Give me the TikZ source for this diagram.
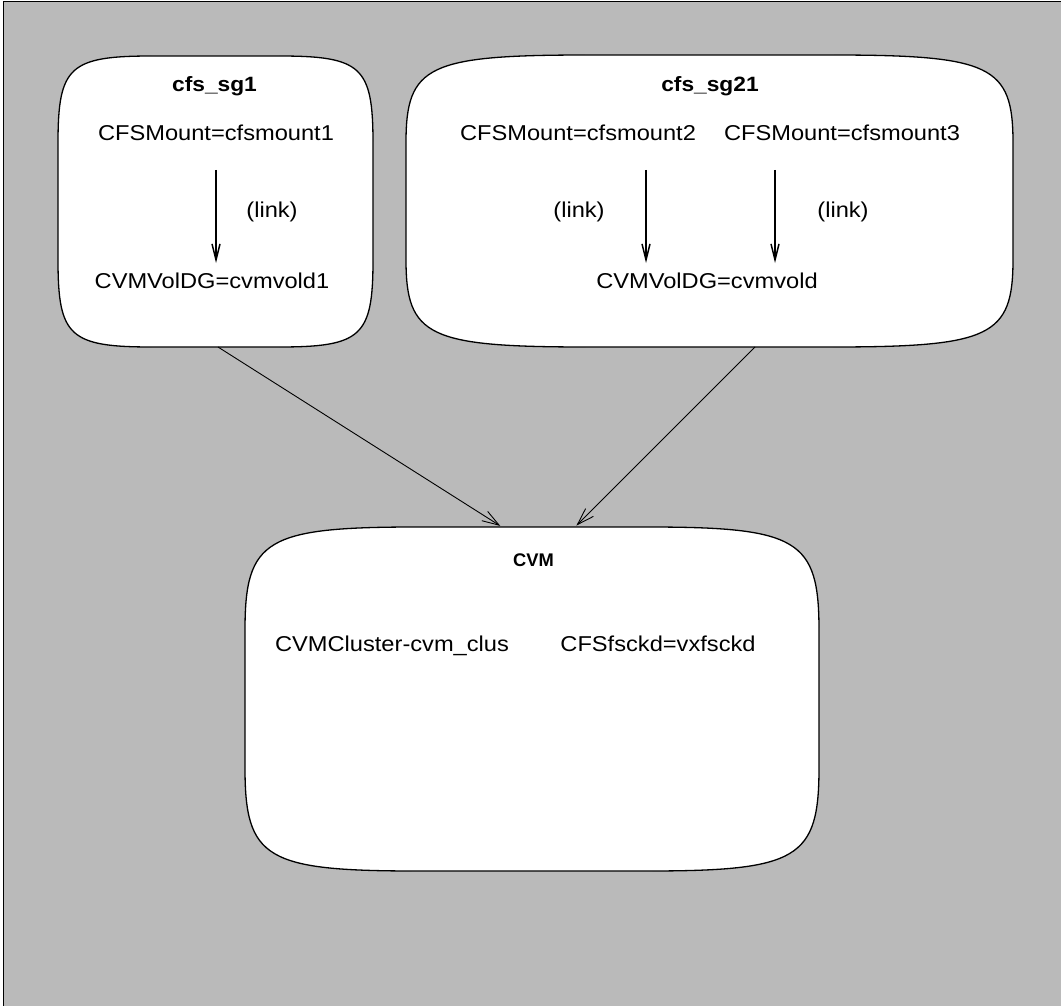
\documentclass[tikz,border=0pt]{standalone}
\usepackage{fontspec}
\setmainfont{Liberation Sans}
\newfontfamily\lblfont[FakeStretch=1.1]{Liberation Sans}
\usetikzlibrary{arrows.meta}
\definecolor{bggray}{RGB}{186,186,186}
% #1 name, #2 left, #3 top, #4 right, #5 bottom (pixel units, y downward)
\newcommand\blob[5]{%
  \pgfmathsetmacro\blobrx{0.3*(#4-#2)}%
  \pgfmathsetmacro\blobry{0.3*(#5-#3)}%
  \pgfmathsetmacro\blobkx{0.12*\blobrx}%
  \pgfmathsetmacro\blobky{0.12*\blobry}%
  \path[blob] (#2,{#3+\blobry}) -- (#2,{#5-\blobry})
    .. controls (#2,{#5-\blobky}) and ({#2+\blobkx},#5) .. ({#2+\blobrx},#5)
    -- ({#4-\blobrx},#5)
    .. controls ({#4-\blobkx},#5) and (#4,{#5-\blobky}) .. (#4,{#5-\blobry})
    -- (#4,{#3+\blobry})
    .. controls (#4,{#3+\blobky}) and ({#4-\blobkx},#3) .. ({#4-\blobrx},#3)
    -- ({#2+\blobrx},#3)
    .. controls ({#2+\blobkx},#3) and (#2,{#3+\blobky}) .. cycle;
  \node[boxarea, minimum width={(#4-#2)*1pt}, minimum height={(#5-#3)*1pt}]
    (#1) at ({(#2+#4)/2},{(#3+#5)/2}) {};%
}
\begin{document}
\begin{tikzpicture}[x=1pt,y=-1pt,
  blob/.style={fill=white, draw=black, line width=1.3pt},
  boxarea/.style={rectangle, inner sep=0pt, outer sep=0pt, draw=none, fill=none},
  lbl/.style={font=\lblfont\fontsize{21.5}{24}\selectfont, inner sep=0pt, outer sep=0pt,
              anchor=base, text height=16pt, text depth=0pt},
  ttl/.style={font=\lblfont\bfseries\fontsize{20.7}{24}\selectfont, inner sep=0pt, anchor=base},
  cvmttl/.style={font=\bfseries\fontsize{18.3}{22}\selectfont, inner sep=0pt, anchor=base},
  inarrow/.style={-{Straight Barb[length=16pt,width=8pt]}, line width=1.5pt},
  outarrow/.style={-{Straight Barb[length=17pt,width=11pt]}, line width=0.9pt}]
\useasboundingbox (0,0) rectangle (1061,1006);
\path[fill=bggray, draw=black, line width=1pt] (3.5,2) rectangle (1075,1020);

% boxes
\blob{b1}{58}{56}{373}{347}
\blob{b2}{406}{55}{1013}{347}
\blob{b3}{245}{527}{819}{871}

% box 1
\node[ttl] (t1) at (214.5,92) {cfs\_sg1};
\node[lbl] (m1) at (216,141) {CFSMount=cfsmount1};
\node[lbl] (v1) at (212,288) {CVMVolDG=cvmvold1};
\node[lbl] (k1) at (272,218) {(link)};
\draw[inarrow, shorten <=29pt, shorten >=9pt] (m1.south) -- ([xshift=4pt]v1.north);

% box 2
\node[ttl] (t2) at (710,92) {cfs\_sg21};
\node[lbl] (m2) at (578,141) {CFSMount=cfsmount2};
\node[lbl] (m3) at (842,141) {CFSMount=cfsmount3};
\node[lbl] (v2) at (707,288) {CVMVolDG=cvmvold};
\node[lbl] (k2) at (579,218) {(link)};
\node[lbl] (k3) at (843,218) {(link)};
\draw[inarrow, shorten <=29pt, shorten >=9pt] ([xshift=68pt]m2.south) -- ([xshift=-61pt]v2.north);
\draw[inarrow, shorten <=29pt, shorten >=9pt] ([xshift=-67pt]m3.south) -- ([xshift=68pt]v2.north);

% box 3
\node[cvmttl] (t3) at (533.5,566) {CVM};
\node[lbl] (c1) at (392,651) {CVMCluster-cvm\_clus};
\node[lbl] (c2) at (658,651) {CFSfsckd=vxfsckd};

% connectors between groups
\draw[outarrow, shorten >=2pt] ([xshift=2.5pt]b1.south) -- ([xshift=-30pt]b3.north);
\draw[outarrow, shorten >=2pt] ([xshift=45.5pt]b2.south) -- ([xshift=43pt]b3.north);
\end{tikzpicture}
\end{document}
